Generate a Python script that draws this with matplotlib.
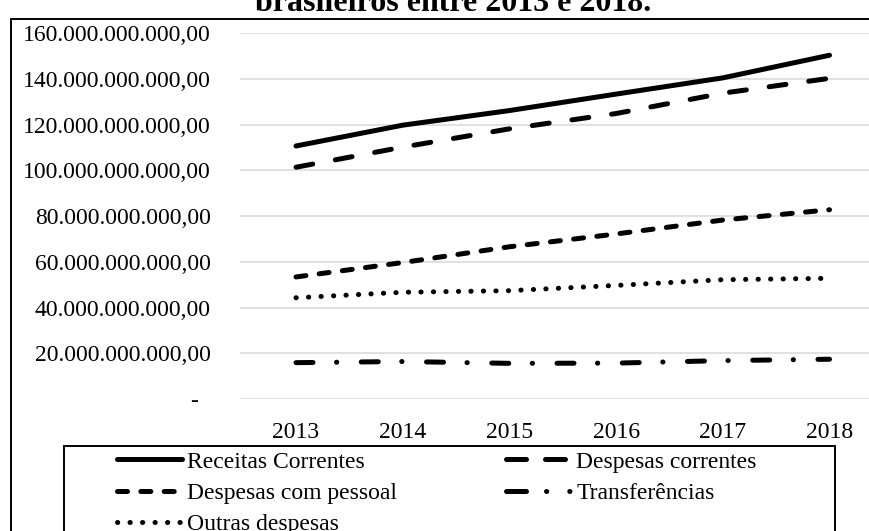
import matplotlib
matplotlib.use("Agg")
import matplotlib.pyplot as plt
from matplotlib.patches import Rectangle
from matplotlib.lines import Line2D
from matplotlib.ticker import FuncFormatter

years = ["2013", "2014", "2015", "2016", "2017", "2018"]
receitas_correntes = [110.7e9, 119.8e9, 126.2e9, 133.4e9, 140.5e9, 150.4e9]
despesas_correntes = [101.4e9, 110.2e9, 118.2e9, 124.9e9, 133.8e9, 140.3e9]
despesas_pessoal = [53.4e9, 59.7e9, 66.6e9, 72.2e9, 78.3e9, 82.8e9]
transferencias = [15.9e9, 16.4e9, 15.6e9, 15.7e9, 16.8e9, 17.4e9]
outras_despesas = [44.3e9, 46.7e9, 47.4e9, 49.7e9, 52.2e9, 52.8e9]
title_text = "brasileiros entre 2013 e 2018."

plt.rcParams['font.family'] = ['Liberation Serif', 'DejaVu Serif']

W, H = 869, 531
fig = plt.figure(figsize=(W / 100, H / 100), dpi=100)

def px(x, y):
    return x / W, 1 - y / H

ax_left, ax_top, ax_bottom = 240, 33.3, 399
x_lo, x_hi = -0.525, 5.5
unit = 106.7
ax_w = (x_hi - x_lo) * unit
ax = fig.add_axes([ax_left / W, 1 - ax_bottom / H, ax_w / W, (ax_bottom - ax_top) / H])
ax.set_xlim(x_lo, x_hi)
ax.set_ylim(0, 160e9)

lw = 3.6
xs = list(range(len(years)))
styles = {
    'Receitas Correntes': (receitas_correntes, '-'),
    'Despesas correntes': (despesas_correntes, (0, (3.4, 4.6))),
    'Despesas com pessoal': (despesas_pessoal, (0, (2.0, 2.67))),
    'Transferências': (transferencias, (0, (3.4, 4.7, 0.05, 4.9))),
    'Outras despesas': (outras_despesas, (0, (0.05, 2.45))),
}
handles = {}
for name, (vals, ls) in styles.items():
    h, = ax.plot(xs, vals, color='black', lw=lw, linestyle=ls,
                 solid_capstyle='round', dash_capstyle='round', label=name)
    handles[name] = h

# legend proxies matching the reference's legend glyphs
handles['Despesas correntes'] = Line2D([], [], color='black', lw=lw, linestyle=(0, (4.0, 3.8)),
                                       dash_capstyle='round')
handles['Transferências'] = Line2D([], [], color='black', lw=lw,
                                   linestyle=(0, (4.0, 4.0, 0.05, 4.6, 0.05, 5.0)),
                                   dash_capstyle='round')

ax.set_xticks(xs)
ax.set_xticklabels(years)
ax.set_yticks([i * 20e9 for i in range(9)])

def fmt(v, pos):
    if v == 0:
        return "-  "
    s = f"{v:,.2f}"
    return s.replace(",", "X").replace(".", ",").replace("X", ".")

ax.yaxis.set_major_formatter(FuncFormatter(fmt))
ax.grid(axis='y', color='#d9d9d9', lw=1.1)
ax.set_axisbelow(True)
for s in ax.spines.values():
    s.set_visible(False)
ax.tick_params(axis='both', length=0, labelsize=17, colors='black')
ax.tick_params(axis='y', pad=21)
ax.tick_params(axis='x', pad=16.5)

# outer frame
fig.patches.append(Rectangle(px(11, 600), 1000 / W, (600 - 19) / H, transform=fig.transFigure,
                             fill=False, edgecolor='black', lw=1.4, zorder=0))

# title (partially cut off at top, as in the reference)
fig.text(453 / W, 1 - 11 / H, title_text, ha='center', va='baseline',
         fontsize=23, fontweight='bold')

# legend box
fig.patches.append(Rectangle(px(64, 600), (835 - 64) / W, (600 - 446) / H, transform=fig.transFigure,
                             fill=False, edgecolor='black', lw=1.4, zorder=1))

order = ['Receitas Correntes', 'Despesas com pessoal', 'Outras despesas',
         'Despesas correntes', 'Transferências']
leg = fig.legend([handles[k] for k in order], order, loc='upper left',
                 bbox_to_anchor=px(117, 451), ncol=2, frameon=False,
                 fontsize=17, handlelength=2.75, handletextpad=0.2,
                 borderpad=0, borderaxespad=0, labelspacing=0.42,
                 columnspacing=4.65)

fig.savefig("out.png", dpi=100)
